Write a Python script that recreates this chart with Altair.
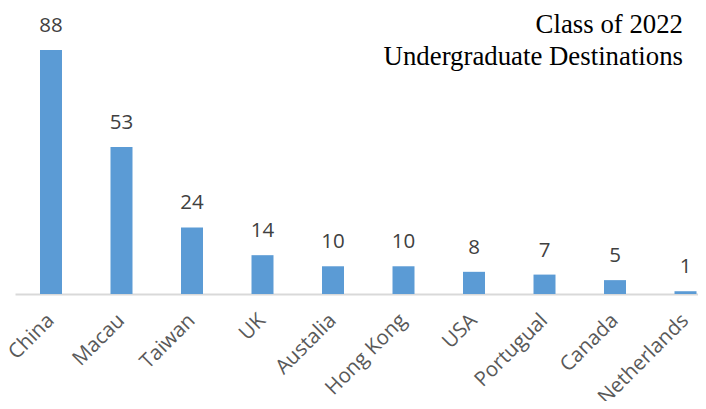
import altair as alt
import pandas as pd

countries = ["China", "Macau", "Taiwan", "UK", "Austalia", "Hong Kong", "USA", "Portugual", "Canada", "Netherlands"]
counts = [88, 53, 24, 14, 10, 10, 8, 7, 5, 1]
title_lines = ["Class of 2022", "Undergraduate Destinations"]

df = pd.DataFrame({"country": countries, "count": counts})

x = alt.X(
    "country:N",
    sort=countries,
    scale=alt.Scale(range=[0, 706.5], paddingInner=0.688, paddingOuter=0.3546),
    axis=alt.Axis(
        title=None,
        labelAngle=-45,
        labelAlign="right",
        labelBaseline="middle",
        labelFont="Open Sans",
        labelFontSize=20.5,
        labelColor="#595959",
        labelPadding=23,
        ticks=False,
        domainColor="#d9d9d9",
        domainWidth=2,
        labelOverlap=False,
        labelBound=False,
    ),
)
y = alt.Y("count:Q", scale=alt.Scale(domain=[0, 103.15], nice=False), axis=None)

bars = alt.Chart(df).mark_bar(color="#5b9bd5").encode(x=x, y=y)
labels = alt.Chart(df).mark_text(
    font="Open Sans", fontSize=20.5, color="#404040", baseline="alphabetic", dy=-18
).encode(x=x, y=y, text="count:Q")

chart = (
    alt.layer(bars, labels)
    .properties(
        width=683,
        height=286,
        padding={"left": 7, "top": 0, "right": 0, "bottom": 107},
        autosize=alt.AutoSizeParams(type="none"),
        title=alt.TitleParams(
            text=title_lines,
            anchor="end",
            orient="top",
            frame="group",
            offset=-63,
            baseline="top",
            dx=-15,
            font="Liberation Serif",
            fontSize=26.8,
            fontWeight="normal",
            color="#000000",
            lineHeight=32,
        ),
    )
    .configure_view(stroke=None)
)

chart.save("out.html", embed_options={"renderer": "svg", "actions": False})
